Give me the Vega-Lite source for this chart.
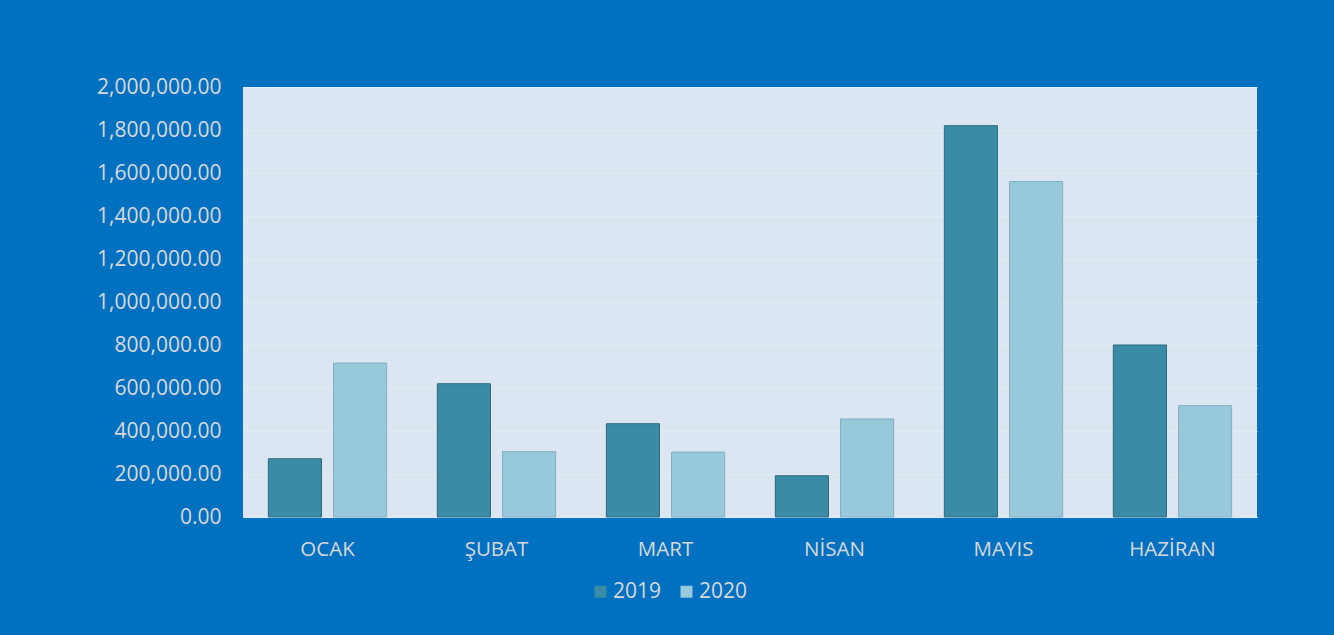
{
  "$schema": "https://vega.github.io/schema/vega-lite/v6.json",
  "width": 1014,
  "height": 430,
  "autosize": {"type": "none"},
  "padding": {"left": 243, "top": 87, "right": 77, "bottom": 118},
  "background": "#0070C0",
  "config": {
    "view": {"fill": "#DCE6F2", "stroke": null},
    "font": "Open Sans",
    "axis": {"labelFont": "Open Sans", "labelColor": "#D9D9D9"},
    "legend": {"labelFont": "Open Sans"}
  },
  "data": {
    "values": [
      {"ay": "OCAK", "yil": "2019", "deger": 271000},
      {"ay": "OCAK", "yil": "2020", "deger": 716000},
      {"ay": "ŞUBAT", "yil": "2019", "deger": 620000},
      {"ay": "ŞUBAT", "yil": "2020", "deger": 304000},
      {"ay": "MART", "yil": "2019", "deger": 434000},
      {"ay": "MART", "yil": "2020", "deger": 302000},
      {"ay": "NİSAN", "yil": "2019", "deger": 192000},
      {"ay": "NİSAN", "yil": "2020", "deger": 456000},
      {"ay": "MAYIS", "yil": "2019", "deger": 1820000},
      {"ay": "MAYIS", "yil": "2020", "deger": 1560000},
      {"ay": "HAZİRAN", "yil": "2019", "deger": 800000},
      {"ay": "HAZİRAN", "yil": "2020", "deger": 518000}
    ]
  },
  "mark": {"type": "bar", "strokeWidth": 1},
  "encoding": {
    "x": {
      "field": "ay",
      "type": "nominal",
      "sort": null,
      "scale": {"paddingInner": 0.3, "paddingOuter": 0.15},
      "axis": {
        "title": null,
        "labelAngle": 0,
        "labelFontSize": 20.5,
        "labelPadding": 22,
        "ticks": false,
        "domainColor": "#E6EEF8",
        "domainWidth": 1
      }
    },
    "xOffset": {
      "field": "yil",
      "type": "nominal",
      "scale": {"paddingInner": 0.185, "paddingOuter": 0}
    },
    "y": {
      "field": "deger",
      "type": "quantitative",
      "scale": {"domain": [0, 2000000]},
      "axis": {
        "title": null,
        "values": [0, 200000, 400000, 600000, 800000, 1000000, 1200000, 1400000, 1600000, 1800000, 2000000],
        "format": ",.2f",
        "labelFontSize": 21,
        "labelPadding": 22,
        "labelOverlap": false,
        "labelBound": false,
        "labelFlush": false,
        "ticks": false,
        "domain": false,
        "gridColor": "#E3EBF5",
        "gridWidth": 1
      }
    },
    "color": {
      "field": "yil",
      "type": "nominal",
      "scale": {"domain": ["2019", "2020"], "range": ["#3A8CA6", "#97C9DA"]},
      "legend": {
        "title": null,
        "orient": "none",
        "direction": "horizontal",
        "legendX": 347,
        "legendY": 494,
        "symbolType": "square",
        "symbolSize": 144,
        "symbolStrokeWidth": 0,
        "labelFontSize": 21,
        "labelColor": "#D9D9D9",
        "columnPadding": 14,
        "labelOffset": 2
      }
    },
    "stroke": {
      "field": "yil",
      "type": "nominal",
      "scale": {"domain": ["2019", "2020"], "range": ["#2A6A7E", "#7FAFBF"]},
      "legend": null
    }
  }
}
